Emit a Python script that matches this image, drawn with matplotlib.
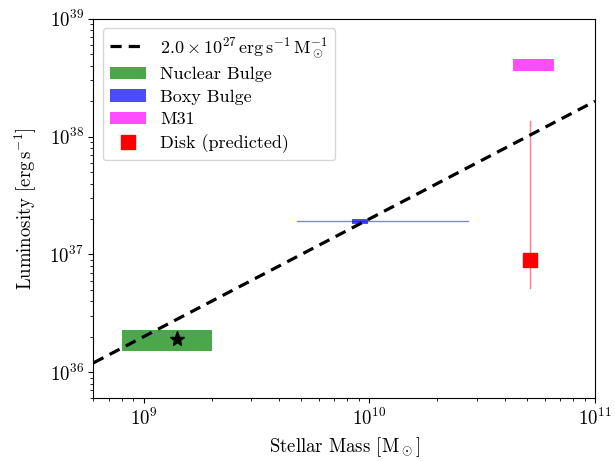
import numpy as np
import matplotlib
matplotlib.use('Agg')
import matplotlib.pyplot as plt

plt.rcParams['font.family'] = 'serif'
plt.rcParams['font.serif'] = ['cmr10']
plt.rcParams['mathtext.fontset'] = 'cm'
plt.rcParams['axes.formatter.use_mathtext'] = True

# Linear relation L = k * M
k_ratio = 2.0e27
mass_line = np.array([6e8, 1e11])

# Nuclear bulge (mass range, luminosity range, best estimate)
nb_mass = [8e8, 2e9]
nb_lum = [1.5e36, 2.3e36]
nb_point = (1.4e9, 1.9e36)

# Boxy bulge
bb_mass = [8.4e9, 9.9e9]
bb_lum = [1.82e37, 2.0e37]
bb_mass_range = [4.8e9, 2.75e10]
bb_lum_center = 1.91e37

# M31
m31_mass = [4.35e10, 6.6e10]
m31_lum = [3.6e38, 4.6e38]

# Disk (predicted)
disk_mass = 5.15e10
disk_lum = 8.9e36
disk_lum_range = [5.2e36, 1.37e38]

fig, ax = plt.subplots(figsize=(6.15, 4.61), dpi=100)
fig.subplots_adjust(left=0.152, right=0.9675, top=0.959, bottom=0.136)

ax.plot(mass_line, k_ratio * mass_line, 'k--', lw=2.3, dashes=(3.5, 2.2),
        label=r'$2.0 \times 10^{27}\,\mathrm{erg\,s^{-1}\,M_\odot^{-1}}$', zorder=3)

ax.fill_between(nb_mass, nb_lum[0], nb_lum[1], color='green', alpha=0.7,
                lw=0, label='Nuclear Bulge')
ax.plot(*nb_point, marker='*', color='k', ms=11, ls='none', zorder=4)

ax.plot(bb_mass_range, [bb_lum_center] * 2, color='blue', alpha=0.5, lw=1)
ax.fill_between(bb_mass, bb_lum[0], bb_lum[1], color='blue', alpha=0.7,
                lw=0, label='Boxy Bulge')

ax.fill_between(m31_mass, m31_lum[0], m31_lum[1], color='magenta', alpha=0.7,
                lw=0, label='M31')

ax.plot([disk_mass] * 2, disk_lum_range, color='red', alpha=0.5, lw=1)
ax.plot(disk_mass, disk_lum, marker='s', color='red', ms=10.5, ls='none',
        label='Disk (predicted)')

ax.set_xscale('log')
ax.set_yscale('log')
ax.set_xlim(6e8, 1e11)
ax.set_ylim(6e35, 1e39)
ax.tick_params(labelsize=13.5)
ax.set_xlabel(r'Stellar Mass [$\mathrm{M_\odot}$]', fontsize=13.5)
ax.set_ylabel(r'Luminosity [$\mathrm{erg\,s^{-1}}$]', fontsize=13.5, labelpad=8)

ax.legend(loc='upper left', fontsize=13, labelspacing=0.38, handlelength=2.0)

plt.savefig('out.png', dpi=100)
